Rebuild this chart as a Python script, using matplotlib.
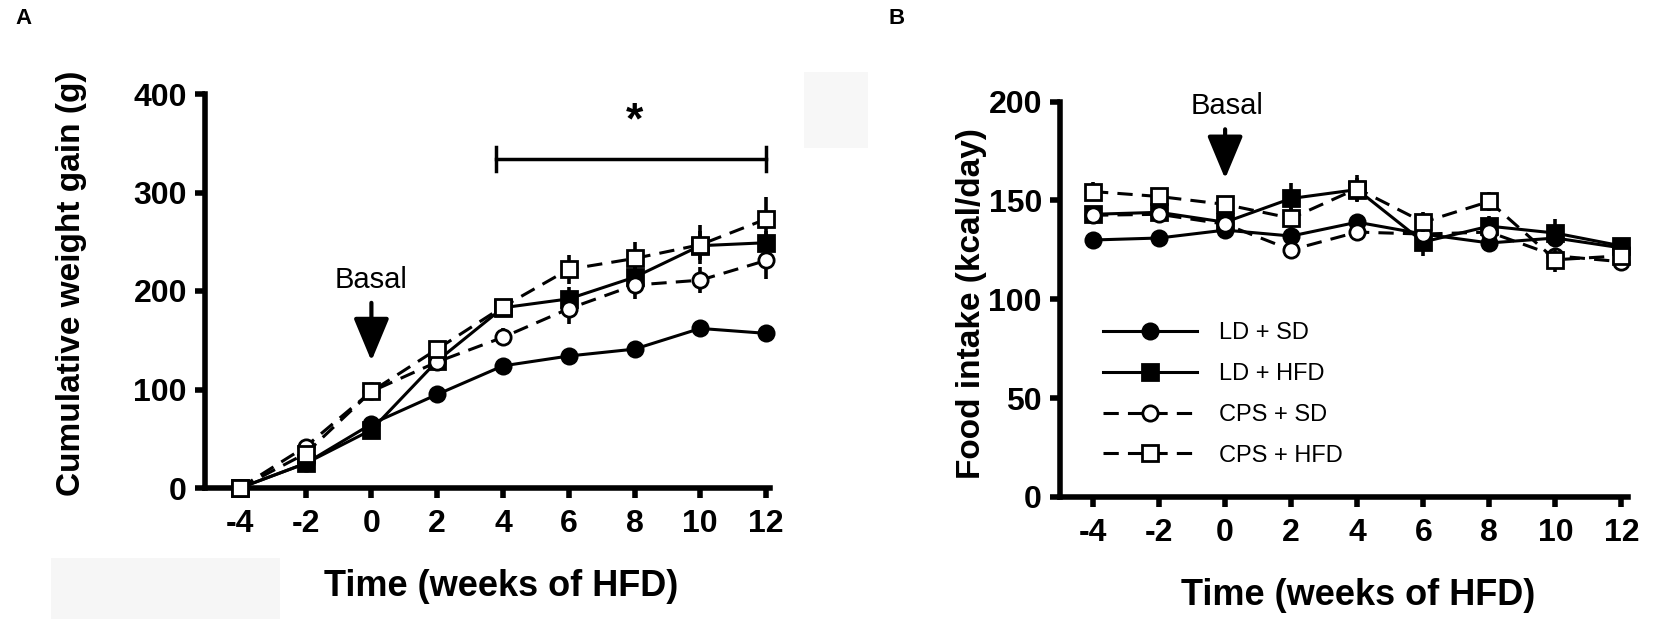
import matplotlib
matplotlib.use('Agg')
import matplotlib.pyplot as plt
from matplotlib.lines import Line2D
from matplotlib.patches import Rectangle

plt.rcParams['font.family'] = ['Liberation Sans', 'DejaVu Sans']

# ---------------- data ----------------
weeks = [-4, -2, 0, 2, 4, 6, 8, 10, 12]
xtick_labels = ['-4', '-2', '0', '2', '4', '6', '8', '10', '12']
series_names = ['LD + SD', 'LD + HFD', 'CPS + SD', 'CPS + HFD']

# Panel A: cumulative weight gain (g)
gain_ld_sd = [0, 25, 65, 95, 124, 134, 141, 162, 157]
gain_ld_hfd = [0, 25, 59, 129, 183, 192, 214, 246, 249]
gain_cps_sd = [0, 42, 98, 128, 153, 182, 206, 211, 231]
gain_cps_hfd = [0, 35, 98, 141, 184, 222, 233, 247, 273]
gain_err_ld_sd = [0, 3, 4, 4, 5, 5, 5, 6, 7]
gain_err_ld_hfd = [0, 3, 4, 8, 8, 12, 12, 15, 12]
gain_err_cps_sd = [0, 4, 5, 6, 9, 15, 14, 13, 19]
gain_err_cps_hfd = [0, 4, 5, 6, 8, 15, 17, 20, 22]

# Panel B: food intake (kcal/day)
food_ld_sd = [130, 131, 135, 132, 139, 133, 128.5, 131, 126]
food_ld_hfd = [143, 144, 139, 151, 155.5, 129, 137, 133.5, 127]
food_cps_sd = [142.5, 143, 138, 125, 134, 133, 134, 122, 119]
food_cps_hfd = [154.5, 152, 148, 141, 156, 139, 149.5, 120, 122]
food_err_ld_sd = [3, 3, 3, 3, 3, 3, 3, 3, 3]
food_err_ld_hfd = [4, 4, 4, 8, 6, 7, 5, 7, 4]
food_err_cps_sd = [4, 4, 4, 4, 4, 4, 4, 4, 4]
food_err_cps_hfd = [5, 4, 4, 5, 7, 5, 5, 6, 4]

W, H = 1654, 619
fig = plt.figure(figsize=(W / 100, H / 100), dpi=100)

axA = fig.add_axes([205 / W, 1 - 488 / H, 565 / W, 394 / H])
axB = fig.add_axes([1060 / W, 1 - 497 / H, 568 / W, 395.4 / H])

styles = [
    dict(ls='-', marker='o', mfc='black'),
    dict(ls='-', marker='s', mfc='black'),
    dict(ls=(0, (5, 3)), marker='o', mfc='white'),
    dict(ls=(0, (5, 3)), marker='s', mfc='white'),
]
LW = 2.2
MS = 11
MEW = 2.0


def draw(ax, ys, errs):
    for i, (y, e) in enumerate(zip(ys, errs)):
        st = styles[i]
        ax.errorbar(weeks, y, yerr=e, color='black', lw=LW, ls=st['ls'],
                    marker=st['marker'], ms=MS, mfc=st['mfc'], mec='black',
                    mew=MEW, elinewidth=2.6, capsize=0, clip_on=False,
                    zorder=3 + i)


draw(axA, [gain_ld_sd, gain_ld_hfd, gain_cps_sd, gain_cps_hfd],
     [gain_err_ld_sd, gain_err_ld_hfd, gain_err_cps_sd, gain_err_cps_hfd])
draw(axB, [food_ld_sd, food_ld_hfd, food_cps_sd, food_cps_hfd],
     [food_err_ld_sd, food_err_ld_hfd, food_err_cps_sd, food_err_cps_hfd])

axA.set_xlim(-5.06, 12.12)
axA.set_ylim(0, 400)
axA.set_yticks([0, 100, 200, 300, 400])
axB.set_xlim(-5.0, 12.2)
axB.set_ylim(0, 200)
axB.set_yticks([0, 50, 100, 150, 200])

for ax in (axA, axB):
    ax.set_xticks(weeks)
    ax.set_xticklabels(xtick_labels)
    for s in ('top', 'right'):
        ax.spines[s].set_visible(False)
    for s in ('left', 'bottom'):
        ax.spines[s].set_linewidth(4)
    ax.tick_params(axis='both', direction='out', length=7, width=4,
                   labelsize=23)
    ax.tick_params(axis='x', pad=8)
    ax.tick_params(axis='y', pad=6)
    for lab in ax.get_xticklabels() + ax.get_yticklabels():
        lab.set_fontweight('bold')
    ax.set_xlabel('Time (weeks of HFD)', fontsize=26, fontweight='bold')

axA.set_ylabel('Cumulative weight gain (g)', fontsize=24, fontweight='bold')
axB.set_ylabel('Food intake (kcal/day)', fontsize=24, fontweight='bold')
axA.xaxis.set_label_coords(0.525, -0.251)
axA.xaxis.label.set_va('center')
axB.xaxis.set_label_coords(0.525, -0.248)
axB.xaxis.label.set_va('center')
axA.yaxis.set_label_coords(-0.236, 0.52)
axA.yaxis.label.set_va('center')
axB.yaxis.set_label_coords(-0.155, 0.49)
axB.yaxis.label.set_va('center')

# annotations panel A
axA.text(0, 211, 'Basal', fontsize=21, ha='center', va='center')
axA.annotate('', xy=(0, 129), xytext=(0, 188),
             arrowprops=dict(arrowstyle='-|>,head_length=1.2,head_width=0.5',
                             lw=3, color='black', mutation_scale=22,
                             shrinkA=0, shrinkB=0))
axA.text(8, 372, '*', fontsize=32, fontweight='bold', ha='center', va='center')
axA.plot([3.8, 12], [334, 334], color='black', lw=2.5, clip_on=False)
axA.plot([3.8, 3.8], [322, 346], color='black', lw=2.5, clip_on=False)
axA.plot([12, 12], [322, 346], color='black', lw=2.5, clip_on=False)

# annotations panel B
axB.text(0.05, 198, 'Basal', fontsize=21, ha='center', va='center', clip_on=False)
axB.annotate('', xy=(0, 161), xytext=(0, 186),
             arrowprops=dict(arrowstyle='-|>,head_length=1.2,head_width=0.5',
                             lw=3, color='black', mutation_scale=22,
                             shrinkA=0, shrinkB=0))

handles = [Line2D([], [], color='black', lw=LW, ls=st['ls'], marker=st['marker'],
                  ms=MS, mfc=st['mfc'], mec='black', mew=MEW) for st in styles]
axB.legend(handles, series_names, loc='upper left', frameon=False,
           bbox_to_anchor=(1103 / W, 1 - 322 / H), bbox_transform=fig.transFigure,
           fontsize=17, handlelength=4.0, handletextpad=0.9, labelspacing=0.8,
           borderpad=0, borderaxespad=0)

fig.text(15 / W, 1 - 19 / H, 'A', fontsize=16, fontweight='bold', va='center')
fig.text(888 / W, 1 - 19 / H, 'B', fontsize=16, fontweight='bold', va='center')

fig.patches.append(Rectangle((51 / W, 0), 229 / W, 61 / H, transform=fig.transFigure,
                             facecolor='#f6f6f6', edgecolor='none', zorder=0))
fig.patches.append(Rectangle((804 / W, 1 - 148 / H), 64 / W, 76 / H,
                             transform=fig.transFigure, facecolor='#f7f7f7',
                             edgecolor='none', zorder=0))

fig.savefig('out.png', dpi=100)
